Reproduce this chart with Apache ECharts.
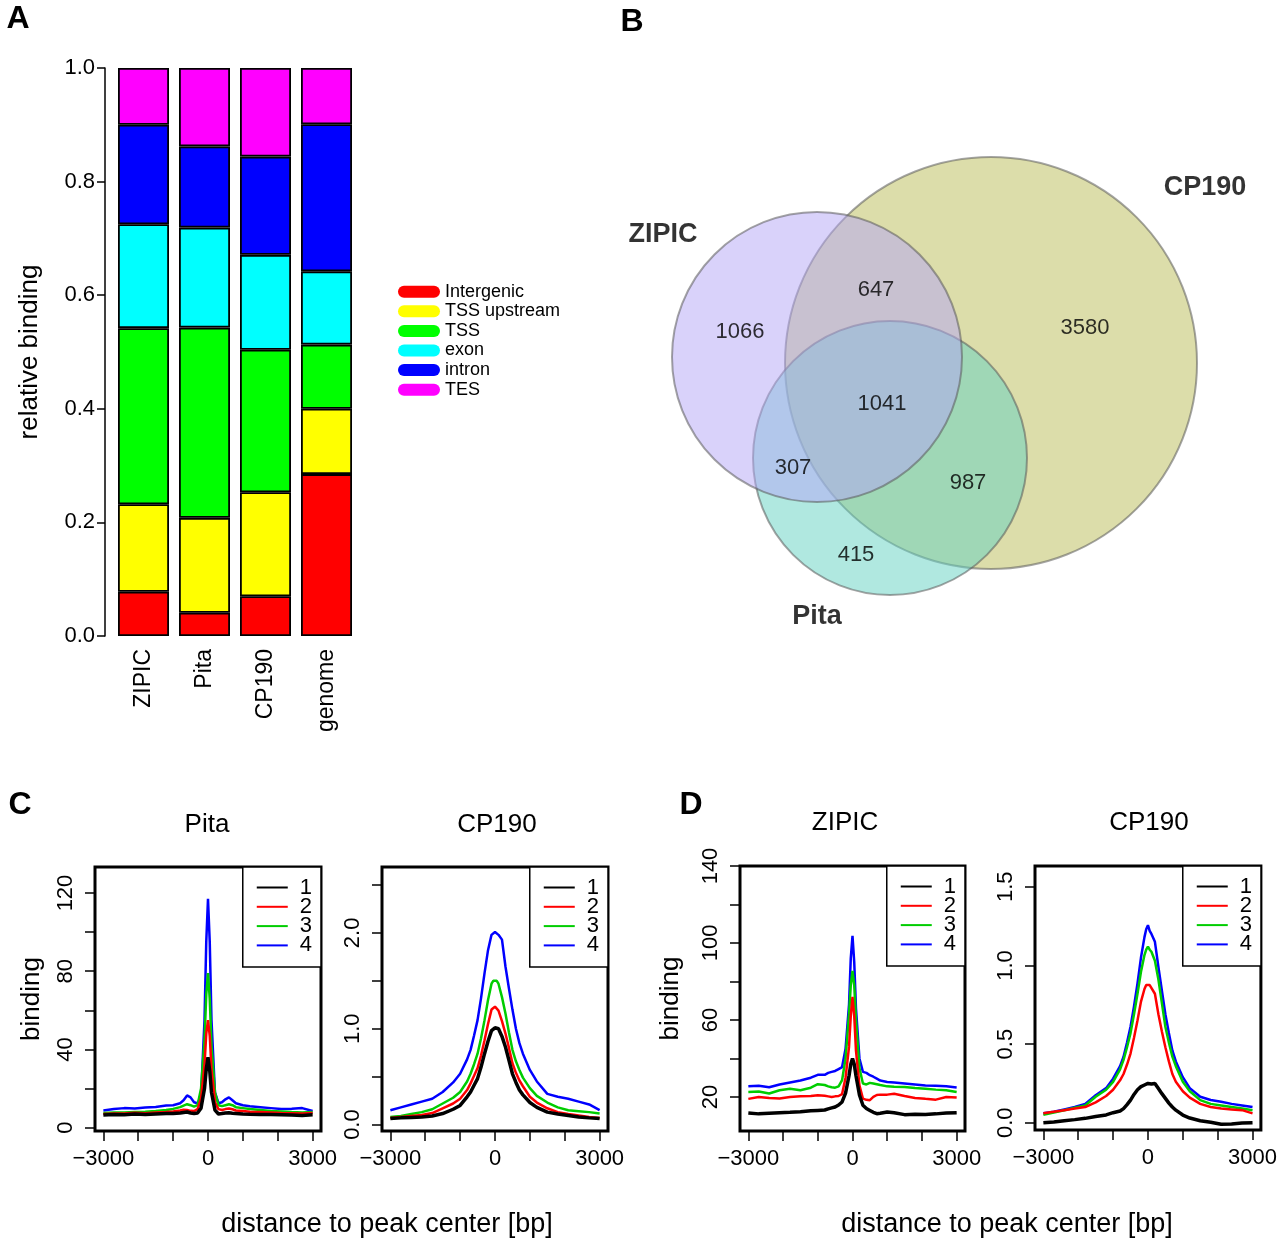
<!DOCTYPE html>
<html>
<head>
<meta charset="utf-8">
<title>ZIPIC / Pita / CP190 binding</title>
<script src="https://cdn.jsdelivr.net/npm/echarts@6/dist/echarts.min.js"></script>
<style>
  html, body { margin: 0; padding: 0; background: #fff; }
  #chart { width: 1280px; height: 1243px; }
</style>
</head>
<body>
<div id="chart"></div>
<script>
// ---- A: relative binding per genomic region
const groups = ['ZIPIC', 'Pita', 'CP190', 'genome']
const regions = ['Intergenic', 'TSS upstream', 'TSS', 'exon', 'intron', 'TES']
const intergenic = [0.078, 0.041, 0.070, 0.285]
const tssUpstream = [0.154, 0.167, 0.183, 0.115]
const tss = [0.310, 0.335, 0.251, 0.113]
const exon = [0.183, 0.176, 0.167, 0.129]
const intron = [0.175, 0.143, 0.173, 0.259]
const tes = [0.100, 0.138, 0.156, 0.099]

// ---- B: peak overlap (venn), circle geometry in venn units
const vennSets = ['CP190', 'Pita', 'ZIPIC']
const vennCenterX = [39.1, 29.0, 21.7]
const vennCenterY = [27.7, 18.2, 28.3]
const vennRadius = [20.6, 13.7, 14.5]
const vennNameX = [60.5, 21.7, 6.3]
const vennNameY = [45.2, 2.3, 40.5]
const vennCounts = [1066, 647, 3580, 1041, 307, 987, 415]
const vennCountX = [14.0, 27.6, 48.5, 28.2, 19.3, 36.8, 25.6]
const vennCountY = [30.8, 35.0, 31.2, 23.6, 17.2, 15.7, 8.5]

// ---- C / D: binding around peak centers, quartiles 1..4
const xs = [-3000, -2700, -2400, -2100, -1800, -1500, -1200, -1000, -800, -700, -600, -500, -400, -300, -200, -100, -50, 0,
  50, 100, 200, 300, 400, 500, 600, 700, 800, 1000, 1200, 1500, 1800, 2100, 2400, 2700, 3000]
const xTicks = [-3000, -2000, -1000, 0, 1000, 2000, 3000]
const xLabels = [-3000, 0, 3000]

const cPita1 = [6.5, 6.8, 6.6, 7.0, 6.8, 7.0, 7.2, 7.3, 7.5, 7.8, 8.0, 7.5, 7.2, 7.5, 10, 20, 30, 36,
  29, 18, 9, 7, 7.2, 7.5, 7.6, 7.4, 7.3, 7.0, 6.9, 6.8, 6.7, 6.6, 6.5, 6.2, 6.6]
const cPita2 = [7.0, 7.3, 7.2, 7.6, 7.4, 7.8, 8.0, 8.3, 8.8, 9.2, 9.0, 8.6, 8.5, 9.5, 15, 32, 48, 55,
  47, 30, 13, 9.5, 9, 9.5, 9.8, 9.4, 8.8, 8.5, 8.2, 8.0, 7.8, 7.5, 7.4, 7.2, 7.5]
const cPita3 = [7.5, 7.8, 7.8, 8.0, 8.2, 8.5, 9.0, 9.6, 10.5, 11.3, 12, 11.5, 10.8, 11.5, 20, 45, 68, 79,
  66, 42, 18, 11.5, 11, 11.5, 12, 11.5, 10.5, 10, 9.5, 9.0, 8.5, 8.3, 8.0, 7.8, 8.0]
const cPita4 = [8.8, 9.5, 10, 9.8, 10.3, 10.6, 11.3, 11.5, 12.5, 14, 16.5, 15.5, 13, 12.5, 16, 55, 95, 117,
  95, 55, 18, 12.5, 13, 14.5, 15.5, 14, 12.5, 11.5, 11, 10.5, 10, 9.5, 9.7, 10, 8.5]

const cCp1 = [0.063, 0.07, 0.075, 0.08, 0.09, 0.115, 0.16, 0.2, 0.29, 0.34, 0.41, 0.48, 0.6, 0.74, 0.87, 0.98, 1.0, 1.01,
  1.01, 1.0, 0.92, 0.81, 0.67, 0.53, 0.44, 0.36, 0.31, 0.23, 0.18, 0.13, 0.11, 0.095, 0.08, 0.07, 0.063]
const cCp2 = [0.07, 0.08, 0.09, 0.10, 0.12, 0.17, 0.22, 0.27, 0.36, 0.43, 0.51, 0.59, 0.72, 0.88, 1.05, 1.2, 1.22, 1.23,
  1.22, 1.19, 1.08, 0.95, 0.8, 0.64, 0.54, 0.46, 0.4, 0.29, 0.23, 0.17, 0.13, 0.11, 0.095, 0.08, 0.07]
const cCp3 = [0.08, 0.09, 0.11, 0.13, 0.16, 0.22, 0.28, 0.34, 0.45, 0.53, 0.63, 0.74, 0.9, 1.09, 1.3, 1.47, 1.5, 1.51,
  1.5, 1.47, 1.33, 1.16, 0.96, 0.78, 0.66, 0.57, 0.49, 0.38, 0.3, 0.23, 0.18, 0.15, 0.14, 0.13, 0.115]
const cCp4 = [0.15, 0.18, 0.21, 0.24, 0.27, 0.34, 0.44, 0.53, 0.68, 0.78, 0.93, 1.09, 1.32, 1.58, 1.82, 1.98, 2.0, 2.01,
  2.0, 1.98, 1.93, 1.65, 1.42, 1.2, 1.0, 0.85, 0.74, 0.57, 0.45, 0.32, 0.29, 0.27, 0.24, 0.21, 0.15]

const dZipic1 = [11.7, 11.2, 11.5, 11.8, 12.0, 12.3, 12.8, 13.0, 13.2, 13.8, 14.3, 14.8, 15.8, 17.4, 22, 31, 37, 40,
  37, 31, 21, 15.7, 14, 13, 12, 11.3, 11.5, 12.2, 11.8, 10.8, 11.0, 10.9, 11.2, 11.6, 11.8]
const dZipic2 = [19.0, 20.0, 19.5, 19.2, 20.0, 20.3, 20.5, 20.9, 20.6, 20.3, 20.0, 20.3, 20.5, 21.5, 30, 46, 62, 72,
  62, 44, 26, 19.1, 18.5, 18.3, 20, 21, 21.2, 21.2, 21.7, 20.5, 19.5, 19.0, 18.6, 20.0, 19.7]
const dZipic3 = [22.6, 22.8, 21.8, 23.5, 24.3, 23.5, 24.8, 26.6, 26.2, 25.5, 25.0, 24.8, 25.5, 28.7, 40, 63, 78, 85.5,
  78, 60, 35, 27, 26.5, 27.3, 27, 26.6, 26.2, 25.5, 25.3, 25.2, 24.6, 24.3, 23.8, 23.5, 22.6]
const dZipic4 = [25.5, 25.8, 25.0, 26.5, 27.5, 28.5, 30, 31.5, 31.5, 32.5, 33, 33.5, 34.5, 35.5, 45, 68, 92, 103.7,
  90, 66, 40, 33, 32.5, 31.3, 30.5, 29.5, 28.5, 27.8, 27.5, 27.0, 26.5, 26.0, 25.8, 25.5, 24.9]

const dCp1 = [0.0, 0.005, 0.013, 0.02, 0.028, 0.04, 0.05, 0.064, 0.075, 0.09, 0.115, 0.144, 0.18, 0.21, 0.23, 0.24, 0.245, 0.25,
  0.245, 0.246, 0.25, 0.218, 0.185, 0.155, 0.125, 0.1, 0.08, 0.049, 0.03, 0.013, 0.003, -0.01, -0.008, -0.002, 0.0]
const dCp2 = [0.06, 0.07, 0.08, 0.09, 0.1, 0.13, 0.17, 0.21, 0.27, 0.31, 0.37, 0.44, 0.54, 0.65, 0.77, 0.85, 0.875, 0.886,
  0.875, 0.864, 0.82, 0.69, 0.58, 0.48, 0.39, 0.31, 0.26, 0.2, 0.16, 0.12, 0.1, 0.09, 0.085, 0.08, 0.06]
const dCp3 = [0.05, 0.065, 0.08, 0.095, 0.11, 0.165, 0.21, 0.26, 0.34, 0.4, 0.48, 0.57, 0.69, 0.82, 0.96, 1.066, 1.1, 1.12,
  1.1, 1.087, 1.03, 0.91, 0.76, 0.61, 0.51, 0.42, 0.36, 0.26, 0.2, 0.144, 0.12, 0.11, 0.1, 0.09, 0.08]
const dCp4 = [0.06, 0.07, 0.085, 0.1, 0.12, 0.175, 0.22, 0.28, 0.36, 0.42, 0.51, 0.61, 0.74, 0.886, 1.05, 1.18, 1.23, 1.256,
  1.22, 1.2, 1.15, 0.99, 0.84, 0.69, 0.57, 0.46, 0.39, 0.29, 0.22, 0.165, 0.145, 0.133, 0.12, 0.11, 0.1]

// styles
const FONT = 'Liberation Sans, Arial, Helvetica, sans-serif'
const regionColors = ['#ff0000', '#ffff00', '#00ff00', '#00ffff', '#0000ff', '#ff00ff']
const vennFill = ['rgba(185,187,85,0.5)', 'rgba(97,209,193,0.5)', 'rgba(179,165,245,0.5)']
const lineColors = ['#000000', '#ff0000', '#00cd00', '#0000ff']
const capsule = 'path://M6,0 L36,0 A6,6 0 0 1 36,12 L6,12 A6,6 0 0 1 6,0 Z'

const chart = echarts.init(document.getElementById('chart'), null, { renderer: 'canvas' })

const regionValues = [intergenic, tssUpstream, tss, exon, intron, tes]
const barSeries = regions.map((r, i) => ({
  name: r,
  type: 'bar',
  stack: 'a',
  xAxisIndex: 0,
  yAxisIndex: 0,
  barWidth: 51,
  data: regionValues[i],
  itemStyle: { color: regionColors[i], borderColor: '#000', borderWidth: 1.8 }
}))

function lineSeries(gi, ys) {
  return ys.map((y, k) => ({
    name: String(k + 1),
    type: 'line',
    xAxisIndex: gi,
    yAxisIndex: gi,
    data: xs.map((x, i) => [x, y[i]]),
    showSymbol: false,
    symbol: 'none',
    lineStyle: { color: lineColors[k], width: k === 0 ? 3.5 : 2.5 },
    itemStyle: { color: lineColors[k] },
    z: 10 - k
  }))
}

function profileX(gi) {
  return {
    type: 'value', gridIndex: gi, min: -3240, max: 3240,
    axisLine: { show: false, onZero: false },
    splitLine: { show: false },
    axisTick: { customValues: xTicks, length: 10, lineStyle: { color: '#000', width: 1.5 } },
    axisLabel: {
      customValues: xLabels, margin: 17, fontSize: 22, color: '#000', fontFamily: FONT,
      formatter: v => String(v).replace('-', '\u2212')
    }
  }
}

function profileY(gi, min, max, ticks, labels, digits, name, gap) {
  return {
    type: 'value', gridIndex: gi, min: min, max: max,
    name: name, nameLocation: 'middle', nameGap: gap,
    nameTextStyle: { fontSize: 26, color: '#000', fontFamily: FONT },
    axisLine: { show: false, onZero: false },
    splitLine: { show: false },
    axisTick: { customValues: ticks, length: 10, lineStyle: { color: '#000', width: 1.5 } },
    axisLabel: {
      customValues: labels, rotate: 90, margin: 18, fontSize: 22, color: '#000', fontFamily: FONT,
      formatter: v => v.toFixed(digits)
    }
  }
}

function profileLegend(right, top) {
  return {
    data: ['1', '2', '3', '4'],
    orient: 'vertical',
    right: right,
    top: top,
    icon: 'rect',
    itemWidth: 31,
    itemHeight: 2,
    itemGap: -2.7,
    padding: [9.5, 9, 10.5, 14],
    borderColor: '#000',
    borderWidth: 1.5,
    backgroundColor: '#fff',
    selectedMode: false,
    textStyle: { fontSize: 22, lineHeight: 19.3, color: '#000', fontFamily: FONT, padding: [0, 0, 0, 7] }
  }
}

const boxGrid = { show: true, borderColor: '#000', borderWidth: 3, backgroundColor: 'transparent' }

function label(text, x, y, size, bold, rotation) {
  return {
    type: 'text', x: x, y: y, rotation: rotation || 0,
    style: {
      text: text, fill: '#000', align: 'center', verticalAlign: 'middle',
      font: (bold ? 'bold ' : '') + size + 'px ' + FONT
    }
  }
}

const option = {
  animation: false,
  backgroundColor: '#fff',
  textStyle: { fontFamily: FONT },
  grid: [
    { left: 113, top: 68, width: 244, height: 568 },
    { left: 600, top: 100, width: 640, height: 540 },
    Object.assign({ left: 95, top: 867, width: 226, height: 264 }, boxGrid),
    Object.assign({ left: 382, top: 867, width: 226, height: 264 }, boxGrid),
    Object.assign({ left: 740, top: 866, width: 225, height: 265 }, boxGrid),
    Object.assign({ left: 1035, top: 866, width: 226, height: 264 }, boxGrid)
  ],
  xAxis: [
    {
      type: 'category', gridIndex: 0, data: groups,
      axisLine: { show: false }, axisTick: { show: false },
      axisLabel: { rotate: 90, margin: 13, fontSize: 23, color: '#000', fontFamily: FONT }
    },
    { type: 'value', gridIndex: 1, min: 0, max: 64, show: false },
    profileX(2), profileX(3), profileX(4), profileX(5)
  ],
  yAxis: [
    {
      type: 'value', gridIndex: 0, min: 0, max: 1, interval: 0.2, offset: 8,
      name: 'relative binding', nameLocation: 'middle', nameGap: 62,
      nameTextStyle: { fontSize: 26, color: '#000', fontFamily: FONT },
      axisLine: { show: true, onZero: false, lineStyle: { color: '#000', width: 1.5 } },
      axisTick: { show: true, length: 8, lineStyle: { color: '#000', width: 1.5 } },
      splitLine: { show: false },
      axisLabel: { margin: 10, fontSize: 22, color: '#000', fontFamily: FONT, formatter: v => v.toFixed(1) }
    },
    { type: 'value', gridIndex: 1, min: 0, max: 54, show: false },
    profileY(2, -1.7, 133.3, [0, 20, 40, 60, 80, 100, 120], [0, 40, 80, 120], 0, 'binding', 50),
    profileY(3, -0.067, 2.688, [0, 0.5, 1, 1.5, 2, 2.5], [0, 1, 2], 1, '', 0),
    profileY(4, 2.3, 140, [20, 40, 60, 80, 100, 120, 140], [20, 60, 100, 140], 0, 'binding', 56),
    profileY(5, -0.046, 1.632, [0, 0.5, 1, 1.5], [0, 0.5, 1, 1.5], 1, '', 0)
  ],
  legend: [
    {
      data: regions,
      orient: 'vertical',
      left: 393,
      top: 277,
      icon: capsule,
      itemWidth: 42,
      itemHeight: 12,
      itemGap: 0.2,
      selectedMode: false,
      itemStyle: { borderWidth: 0 },
      textStyle: { fontSize: 18, lineHeight: 19.4, color: '#000', fontFamily: FONT }
    },
    profileLegend(959, 867),
    profileLegend(672, 867),
    profileLegend(315, 866),
    profileLegend(19, 866)
  ],
  series: [
    ...barSeries,
    {
      type: 'custom',
      xAxisIndex: 1,
      yAxisIndex: 1,
      silent: true,
      clip: false,
      data: vennSets.map((s, i) => [vennCenterX[i], vennCenterY[i], vennRadius[i]]),
      renderItem: function (params, api) {
        const c = api.coord([api.value(0), api.value(1)])
        const r = api.size([api.value(2), api.value(2)])[0]
        return {
          type: 'circle',
          shape: { cx: c[0], cy: c[1], r: r },
          style: { fill: vennFill[params.dataIndex], stroke: 'rgba(90,90,90,0.55)', lineWidth: 2 }
        }
      }
    },
    {
      type: 'scatter',
      xAxisIndex: 1,
      yAxisIndex: 1,
      silent: true,
      symbolSize: 1,
      itemStyle: { color: 'rgba(0,0,0,0)' },
      data: vennCounts.map((n, i) => ({ name: String(n), value: [vennCountX[i], vennCountY[i]] })),
      label: { show: true, position: 'inside', formatter: '{b}', fontSize: 22, color: '#000', fontFamily: FONT },
      z: 5
    },
    {
      type: 'scatter',
      xAxisIndex: 1,
      yAxisIndex: 1,
      silent: true,
      symbolSize: 1,
      itemStyle: { color: 'rgba(0,0,0,0)' },
      data: vennSets.map((s, i) => ({ name: s, value: [vennNameX[i], vennNameY[i]] })),
      label: { show: true, position: 'inside', formatter: '{b}', fontSize: 27, fontWeight: 'bold', color: '#000', fontFamily: FONT },
      z: 5
    },
    ...lineSeries(2, [cPita1, cPita2, cPita3, cPita4]),
    ...lineSeries(3, [cCp1, cCp2, cCp3, cCp4]),
    ...lineSeries(4, [dZipic1, dZipic2, dZipic3, dZipic4]),
    ...lineSeries(5, [dCp1, dCp2, dCp3, dCp4])
  ],
  graphic: [
    label('A', 18, 19, 32, true),
    label('B', 632, 22, 32, true),
    label('C', 20, 805, 32, true),
    label('D', 691, 805, 32, true),
    label('Pita', 207, 825, 26),
    label('CP190', 497, 825, 26),
    label('ZIPIC', 845, 823, 26),
    label('CP190', 1149, 823, 26),
    label('distance to peak center [bp]', 387, 1225, 27),
    label('distance to peak center [bp]', 1007, 1225, 27)
  ]
}

chart.setOption(option)
</script>
</body>
</html>
